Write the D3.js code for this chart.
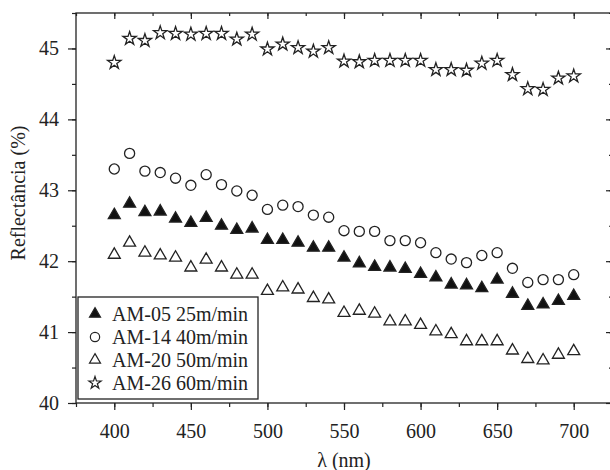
<!DOCTYPE html>
<html>
<head>
<meta charset="utf-8">
<script src="https://cdn.jsdelivr.net/npm/d3@7"></script>
<style>
  body { margin: 0; background: #fff; }
</style>
</head>
<body>
<div id="chart"></div>
<script>
// wavelengths (nm)
var wavelengths = [400, 410, 420, 430, 440, 450, 460, 470, 480, 490, 500, 510, 520, 530, 540, 550,
                   560, 570, 580, 590, 600, 610, 620, 630, 640, 650, 660, 670, 680, 690, 700];

var am05 = [42.65, 42.81, 42.69, 42.70, 42.60, 42.54, 42.61, 42.50, 42.44, 42.46, 42.30, 42.30, 42.26, 42.19, 42.19, 42.05,
            41.97, 41.92, 41.91, 41.89, 41.82, 41.77, 41.67, 41.66, 41.62, 41.74, 41.54, 41.37, 41.39, 41.44, 41.51];
var am14 = [43.30, 43.52, 43.27, 43.25, 43.17, 43.07, 43.22, 43.08, 42.99, 42.93, 42.73, 42.79, 42.77, 42.65, 42.62, 42.43,
            42.42, 42.42, 42.29, 42.29, 42.26, 42.12, 42.03, 41.98, 42.08, 42.12, 41.90, 41.70, 41.74, 41.74, 41.81];
var am20 = [42.09, 42.26, 42.12, 42.08, 42.05, 41.91, 42.02, 41.91, 41.81, 41.81, 41.58, 41.63, 41.60, 41.48, 41.46, 41.27,
            41.30, 41.26, 41.15, 41.15, 41.10, 41.01, 40.97, 40.87, 40.87, 40.87, 40.74, 40.62, 40.60, 40.68, 40.73];
var am26 = [44.80, 45.14, 45.11, 45.22, 45.21, 45.20, 45.21, 45.21, 45.13, 45.20, 44.99, 45.06, 45.01, 44.96, 45.01, 44.82,
            44.81, 44.83, 44.83, 44.83, 44.83, 44.70, 44.70, 44.69, 44.79, 44.83, 44.63, 44.43, 44.42, 44.58, 44.61];

var seriesNames = ["AM-05 25m/min", "AM-14 40m/min", "AM-20 50m/min", "AM-26 60m/min"];
var xTicks = [400, 450, 500, 550, 600, 650, 700];
var yTicks = [40, 41, 42, 43, 44, 45];

var serif = "'Liberation Serif', 'Times New Roman', serif";
var width = 610, height = 470;
var margin = {top: 13, left: 76, bottom: 67, right: -2};

var svg = d3.select("#chart").append("svg")
    .attr("width", width)
    .attr("height", height)
    .style("font-family", serif);

var x = d3.scaleLinear().domain([375, 725]).range([margin.left, width - margin.right]);
var y = d3.scaleLinear().domain([40, 45.5]).range([height - margin.bottom, margin.top]);

var x0 = x.range()[0], x1 = x.range()[1], y0 = y.range()[0], y1 = y.range()[1];

// frame
svg.append("rect")
    .attr("x", x0).attr("y", y1)
    .attr("width", x1 - x0).attr("height", y0 - y1)
    .attr("fill", "none").attr("stroke", "#222").attr("stroke-width", 1.3);

var minorX = d3.range(375, 726, 25);
var minorY = d3.range(40, 45.51, 0.5);

function tickStyle(g) {
  g.attr("font-family", null);
  g.select(".domain").remove();
  g.selectAll("line").attr("stroke", "#222").attr("stroke-width", 1.2);
  g.selectAll("text").style("font-size", "20px").style("font-family", serif).attr("fill", "#222");
}

// bottom
svg.append("g").attr("transform", "translate(0," + y0 + ")")
  .call(d3.axisBottom(x).tickValues(minorX).tickSize(4).tickFormat(""))
  .call(tickStyle);
svg.append("g").attr("transform", "translate(0," + y0 + ")")
  .call(d3.axisBottom(x).tickValues(xTicks).tickSize(7).tickPadding(14).tickFormat(d3.format("d")))
  .call(tickStyle);
// top (inward)
svg.append("g").attr("transform", "translate(0," + y1 + ")")
  .call(d3.axisBottom(x).tickValues(minorX).tickSize(3).tickFormat(""))
  .call(tickStyle);
svg.append("g").attr("transform", "translate(0," + y1 + ")")
  .call(d3.axisBottom(x).tickValues(xTicks).tickSize(6).tickFormat(""))
  .call(tickStyle);
// left
svg.append("g").attr("transform", "translate(" + x0 + ",0)")
  .call(d3.axisLeft(y).tickValues(minorY).tickSize(4).tickFormat(""))
  .call(tickStyle);
svg.append("g").attr("transform", "translate(" + x0 + ",0)")
  .call(d3.axisLeft(y).tickValues(yTicks).tickSize(8).tickPadding(9).tickFormat(d3.format("d")))
  .call(tickStyle);
// right (inward)
svg.append("g").attr("transform", "translate(" + x1 + ",0)")
  .call(d3.axisLeft(y).tickValues(minorY).tickSize(3).tickFormat(""))
  .call(tickStyle);
svg.append("g").attr("transform", "translate(" + x1 + ",0)")
  .call(d3.axisLeft(y).tickValues(yTicks).tickSize(6).tickFormat(""))
  .call(tickStyle);

// axis titles
svg.append("text")
    .attr("x", x(550)).attr("y", 467)
    .attr("text-anchor", "middle")
    .attr("fill", "#222")
    .style("font-size", "20px")
    .text("λ (nm)");
svg.append("text")
    .attr("transform", "translate(25," + 193 + ") rotate(-90)")
    .attr("text-anchor", "middle")
    .attr("fill", "#222")
    .style("font-size", "20px")
    .text("Reflectância (%)");

// markers
var symbols = [
  {type: d3.symbolTriangle, size: 62, fill: "#111"},
  {type: d3.symbolCircle, size: 80, fill: "#fff"},
  {type: d3.symbolTriangle, size: 62, fill: "#fff"},
  {type: d3.symbolStar, size: 55, fill: "#fff"}
];
var allSeries = [am05, am14, am20, am26];

allSeries.forEach(function(vals, i) {
  var s = symbols[i];
  svg.append("g").selectAll("path")
    .data(wavelengths.map(function(w, j) { return [w, vals[j]]; }))
    .enter().append("path")
    .attr("transform", function(d) { return "translate(" + x(d[0]) + "," + y(d[1]) + ")"; })
    .attr("d", d3.symbol().type(s.type).size(s.size))
    .attr("fill", s.fill)
    .attr("stroke", "#222")
    .attr("stroke-width", 1.3);
});

// legend
var legend = svg.append("g");
legend.append("rect")
    .attr("x", 78).attr("y", 297)
    .attr("width", 180).attr("height", 102)
    .attr("fill", "#fff").attr("stroke", "#222").attr("stroke-width", 1.3);
seriesNames.forEach(function(name, i) {
  var cy = 314 + i * 23;
  var s = symbols[i];
  legend.append("path")
    .attr("transform", "translate(95," + cy + ")")
    .attr("d", d3.symbol().type(s.type).size(s.size * 0.85))
    .attr("fill", s.fill).attr("stroke", "#222").attr("stroke-width", 1.2);
  legend.append("text")
    .attr("x", 112).attr("y", cy + 7)
    .attr("fill", "#222")
    .style("font-size", "20px")
    .text(name);
});
</script>
</body>
</html>
